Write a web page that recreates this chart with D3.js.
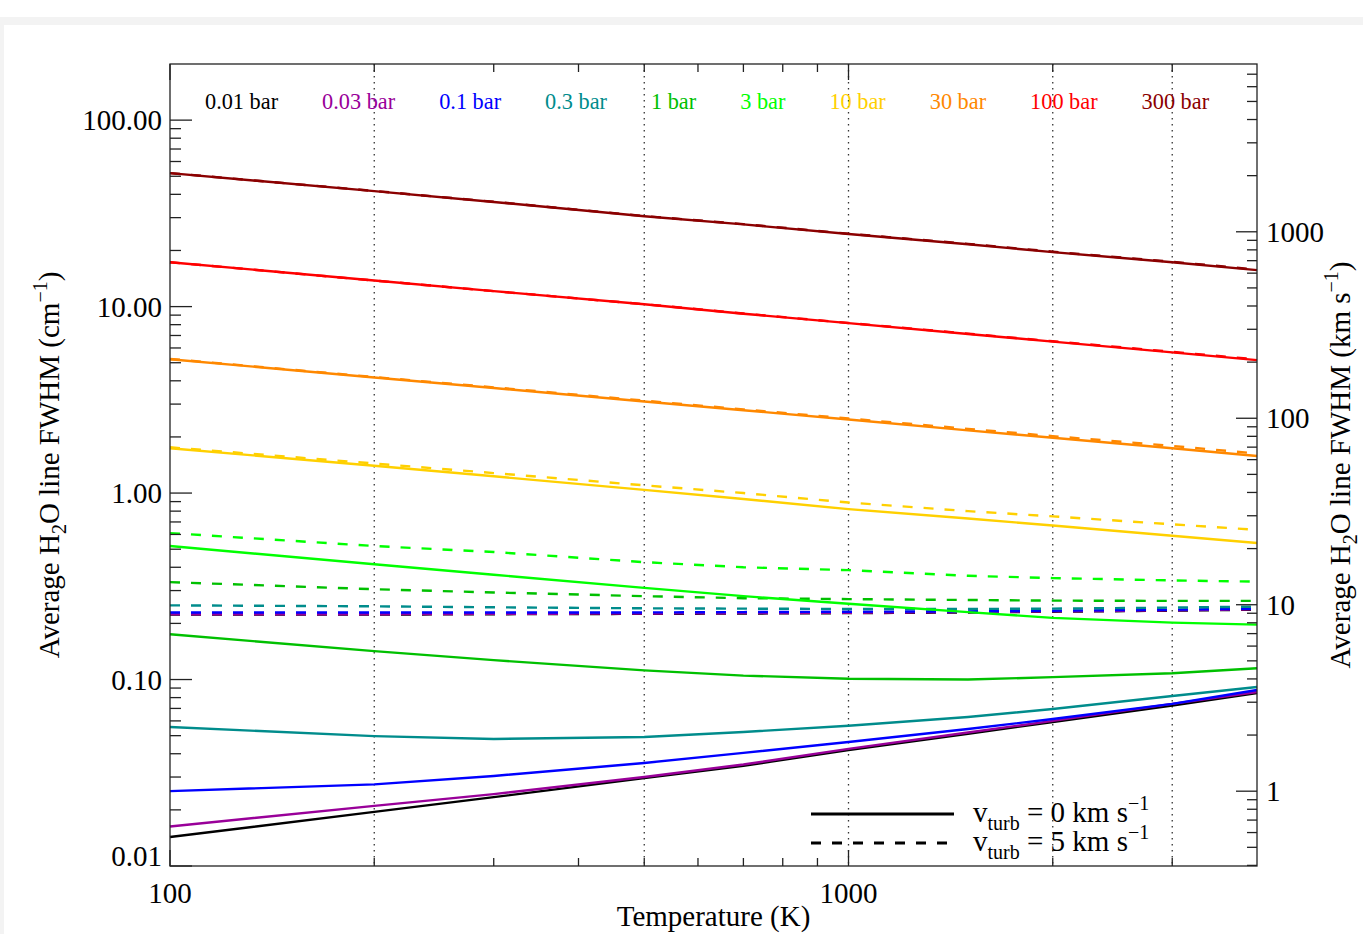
<!DOCTYPE html>
<html>
<head>
<meta charset="utf-8">
<script src="https://cdn.jsdelivr.net/npm/d3@7.9.0/dist/d3.min.js"></script>
<style>
  html, body { margin: 0; padding: 0; background: #fff; }
  svg { display: block; font-family: "Liberation Serif", "Times New Roman", serif; }
</style>
</head>
<body>
<svg id="chart" width="1363" height="934"></svg>
<script>
// temperatures (K) where each curve was sampled
const temps = [100, 200, 300, 500, 700, 1000, 1500, 2000, 3000, 4000];

const pressureLabels = ['0.01 bar', '0.03 bar', '0.1 bar', '0.3 bar', '1 bar', '3 bar', '10 bar', '30 bar', '100 bar', '300 bar'];
const pressureColors = ['#000000', '#990099', '#0000ff', '#008c8c', '#00c000', '#00ff00', '#ffd000', '#ff8800', '#ff0000', '#8b0000'];

// average FWHM (cm^-1), v_turb = 0 km/s, one row per pressure
const fwhmStill = [
    [0.0143, 0.0195, 0.0234, 0.0296, 0.0345, 0.0418, 0.0512, 0.0592, 0.0725, 0.0847],
    [0.0163, 0.0210, 0.0243, 0.0300, 0.0350, 0.0425, 0.0520, 0.0600, 0.0740, 0.0857],
    [0.0252, 0.0274, 0.0304, 0.0357, 0.0404, 0.0462, 0.0543, 0.0614, 0.0740, 0.0879],
    [0.0556, 0.0497, 0.0480, 0.0492, 0.0523, 0.0565, 0.0630, 0.0695, 0.0816, 0.0912],
    [0.175, 0.142, 0.127, 0.112, 0.105, 0.101, 0.100, 0.103, 0.108, 0.115],
    [0.52, 0.415, 0.365, 0.31, 0.28, 0.255, 0.23, 0.214, 0.202, 0.197],
    [1.74, 1.40, 1.23, 1.04, 0.93, 0.82, 0.73, 0.67, 0.59, 0.54],
    [5.22, 4.17, 3.66, 3.10, 2.78, 2.48, 2.17, 1.98, 1.74, 1.58],
    [17.3, 13.8, 12.1, 10.3, 9.16, 8.15, 7.13, 6.49, 5.68, 5.16],
    [52.0, 41.6, 36.4, 30.5, 27.6, 24.5, 21.6, 19.6, 17.3, 15.7]
];

// average FWHM (cm^-1), v_turb = 5 km/s
const fwhmTurb = [
    [0.223, 0.223, 0.224, 0.225, 0.226, 0.227, 0.229, 0.231, 0.234, 0.237],
    [0.224, 0.224, 0.225, 0.226, 0.227, 0.228, 0.230, 0.232, 0.235, 0.238],
    [0.229, 0.229, 0.229, 0.229, 0.230, 0.231, 0.232, 0.234, 0.237, 0.240],
    [0.250, 0.247, 0.244, 0.241, 0.240, 0.239, 0.239, 0.240, 0.243, 0.246],
    [0.333, 0.305, 0.293, 0.280, 0.273, 0.270, 0.267, 0.265, 0.264, 0.264],
    [0.61, 0.52, 0.483, 0.426, 0.40, 0.386, 0.36, 0.35, 0.34, 0.335],
    [1.76, 1.44, 1.28, 1.10, 1.00, 0.89, 0.80, 0.75, 0.68, 0.635],
    [5.24, 4.19, 3.69, 3.13, 2.81, 2.51, 2.21, 2.02, 1.79, 1.63],
    [17.3, 13.8, 12.1, 10.3, 9.18, 8.17, 7.16, 6.52, 5.72, 5.21],
    [52.0, 41.7, 36.5, 30.6, 27.7, 24.6, 21.7, 19.7, 17.4, 15.8]
];

const gridTemps = [200, 500, 1000, 2000, 3000];
const leftTicks = [0.01, 0.1, 1, 10, 100];
const rightTicks = [1, 10, 100, 1000];
const bottomTicks = [100, 1000];
const kmsPerWavenumber = 39.7; // conversion used on the right axis

const svg = d3.select('#chart');

// page frame
svg.append('rect').attr('x', 0).attr('y', 17).attr('width', 1363).attr('height', 917).attr('fill', '#f3f3f3');
svg.append('rect').attr('x', 4).attr('y', 25).attr('width', 1359).attr('height', 909).attr('fill', '#fff');

const plotL = 170, plotR = 1257, plotT = 64, plotB = 866;

let x = d3.scaleLog().domain([100, 4000]).range([plotL, plotR]);
let y = d3.scaleLog().domain([0.01, 200]).range([plotB, plotT]);
let y2 = d3.scaleLog().domain([0.01 * kmsPerWavenumber, 200 * kmsPerWavenumber]).range([plotB, plotT]);

// minor ticks of a log scale
function minorTicks(scale) {
    let [a, b] = scale.domain();
    let out = [];
    for (let e = Math.floor(Math.log10(a)); e <= Math.ceil(Math.log10(b)); e++) {
        for (let m = 2; m <= 9; m++) {
            let v = m * Math.pow(10, e);
            if (v > a * 1.0001 && v < b * 0.9999) out.push(v);
        }
    }
    return out;
}

// dotted grid lines
svg.append('g').selectAll('line').data(gridTemps).join('line')
    .attr('x1', d => x(d)).attr('x2', d => x(d))
    .attr('y1', plotT).attr('y2', plotB)
    .attr('stroke', '#333').attr('stroke-width', 1.3)
    .attr('stroke-dasharray', '1.5,4.5');

// curves
let line = d3.line().x((d, i) => x(temps[i])).y(d => y(d));
let curves = svg.append('g');
fwhmTurb.forEach((row, i) => {
    curves.append('path').attr('d', line(row)).attr('fill', 'none')
        .attr('stroke', pressureColors[i]).attr('stroke-width', 2.4)
        .attr('stroke-dasharray', '10,11');
});
fwhmStill.forEach((row, i) => {
    curves.append('path').attr('d', line(row)).attr('fill', 'none')
        .attr('stroke', pressureColors[i]).attr('stroke-width', 2.4);
});

// axes box + ticks
let axisColor = '#222';
let ax = svg.append('g').attr('stroke', axisColor).attr('stroke-width', 1.3);
ax.append('rect').attr('x', plotL).attr('y', plotT).attr('width', plotR - plotL).attr('height', plotB - plotT).attr('fill', 'none');

// left & right
leftTicks.forEach(v => {
    ax.append('line').attr('x1', plotL).attr('x2', plotL + 22).attr('y1', y(v)).attr('y2', y(v));
});
minorTicks(y).forEach(v => {
    ax.append('line').attr('x1', plotL).attr('x2', plotL + 11).attr('y1', y(v)).attr('y2', y(v));
});
rightTicks.forEach(v => {
    ax.append('line').attr('x1', plotR).attr('x2', plotR - 21).attr('y1', y2(v)).attr('y2', y2(v));
});
minorTicks(y2).forEach(v => {
    ax.append('line').attr('x1', plotR).attr('x2', plotR - 10).attr('y1', y2(v)).attr('y2', y2(v));
});
// bottom & top
bottomTicks.forEach(v => {
    ax.append('line').attr('x1', x(v)).attr('x2', x(v)).attr('y1', plotB).attr('y2', plotB - 16);
    ax.append('line').attr('x1', x(v)).attr('x2', x(v)).attr('y1', plotT).attr('y2', plotT + 16);
});
minorTicks(x).forEach(v => {
    ax.append('line').attr('x1', x(v)).attr('x2', x(v)).attr('y1', plotB).attr('y2', plotB - 8);
    ax.append('line').attr('x1', x(v)).attr('x2', x(v)).attr('y1', plotT).attr('y2', plotT + 8);
});

// tick labels
let txt = svg.append('g').attr('fill', '#000').attr('font-size', 29);
leftTicks.forEach(v => {
    let ty = Math.min(y(v) + 10, plotB);
    txt.append('text').attr('x', plotL - 8).attr('y', ty).attr('text-anchor', 'end').text(v.toFixed(2));
});
rightTicks.forEach(v => {
    txt.append('text').attr('x', plotR + 9).attr('y', y2(v) + 10).text(v);
});
bottomTicks.forEach(v => {
    txt.append('text').attr('x', x(v)).attr('y', plotB + 37).attr('text-anchor', 'middle').text(v);
});
txt.append('text').attr('x', (plotL + plotR) / 2).attr('y', plotB + 60).attr('text-anchor', 'middle').text('Temperature (K)');

// axis titles
let lt = txt.append('text').attr('transform', `translate(59, ${(plotT + plotB) / 2}) rotate(-90)`).attr('text-anchor', 'middle');
lt.append('tspan').text('Average H');
lt.append('tspan').attr('font-size', 20).attr('dy', 7).text('2');
lt.append('tspan').attr('dy', -7).text('O line FWHM (cm');
lt.append('tspan').attr('font-size', 20).attr('dy', -12).text('\u22121');
lt.append('tspan').attr('dy', 12).text(')');

let rt = txt.append('text').attr('transform', `translate(1350, ${(plotT + plotB) / 2}) rotate(-90)`).attr('text-anchor', 'middle');
rt.append('tspan').text('Average H');
rt.append('tspan').attr('font-size', 20).attr('dy', 7).text('2');
rt.append('tspan').attr('dy', -7).text('O line FWHM (km s');
rt.append('tspan').attr('font-size', 20).attr('dy', -12).text('\u22121');
rt.append('tspan').attr('dy', 12).text(')');

// pressure labels along the top, placed one after another
let px = 205;
pressureLabels.forEach((lab, i) => {
    let t = svg.append('text').attr('x', px).attr('y', 109).attr('font-size', 22.3)
        .attr('fill', pressureColors[i]).text(lab);
    px += t.node().getComputedTextLength() + 44;
});

// v_turb legend
const legendRows = [{ v: 0, dash: null }, { v: 5, dash: '10,11' }];
legendRows.forEach((r, i) => {
    let ly = 814 + i * 29;
    svg.append('line').attr('x1', 811).attr('x2', 954).attr('y1', ly).attr('y2', ly)
        .attr('stroke', '#000').attr('stroke-width', 2.8)
        .attr('stroke-dasharray', r.dash);
    let t = svg.append('text').attr('x', 973).attr('y', ly + 8).attr('font-size', 29);
    t.append('tspan').text('v');
    t.append('tspan').attr('font-size', 20).attr('dy', 8).text('turb');
    t.append('tspan').attr('dy', -8).text(` = ${r.v} km s`);
    t.append('tspan').attr('font-size', 20).attr('dy', -12).text('\u22121');
});
</script>
</body>
</html>
